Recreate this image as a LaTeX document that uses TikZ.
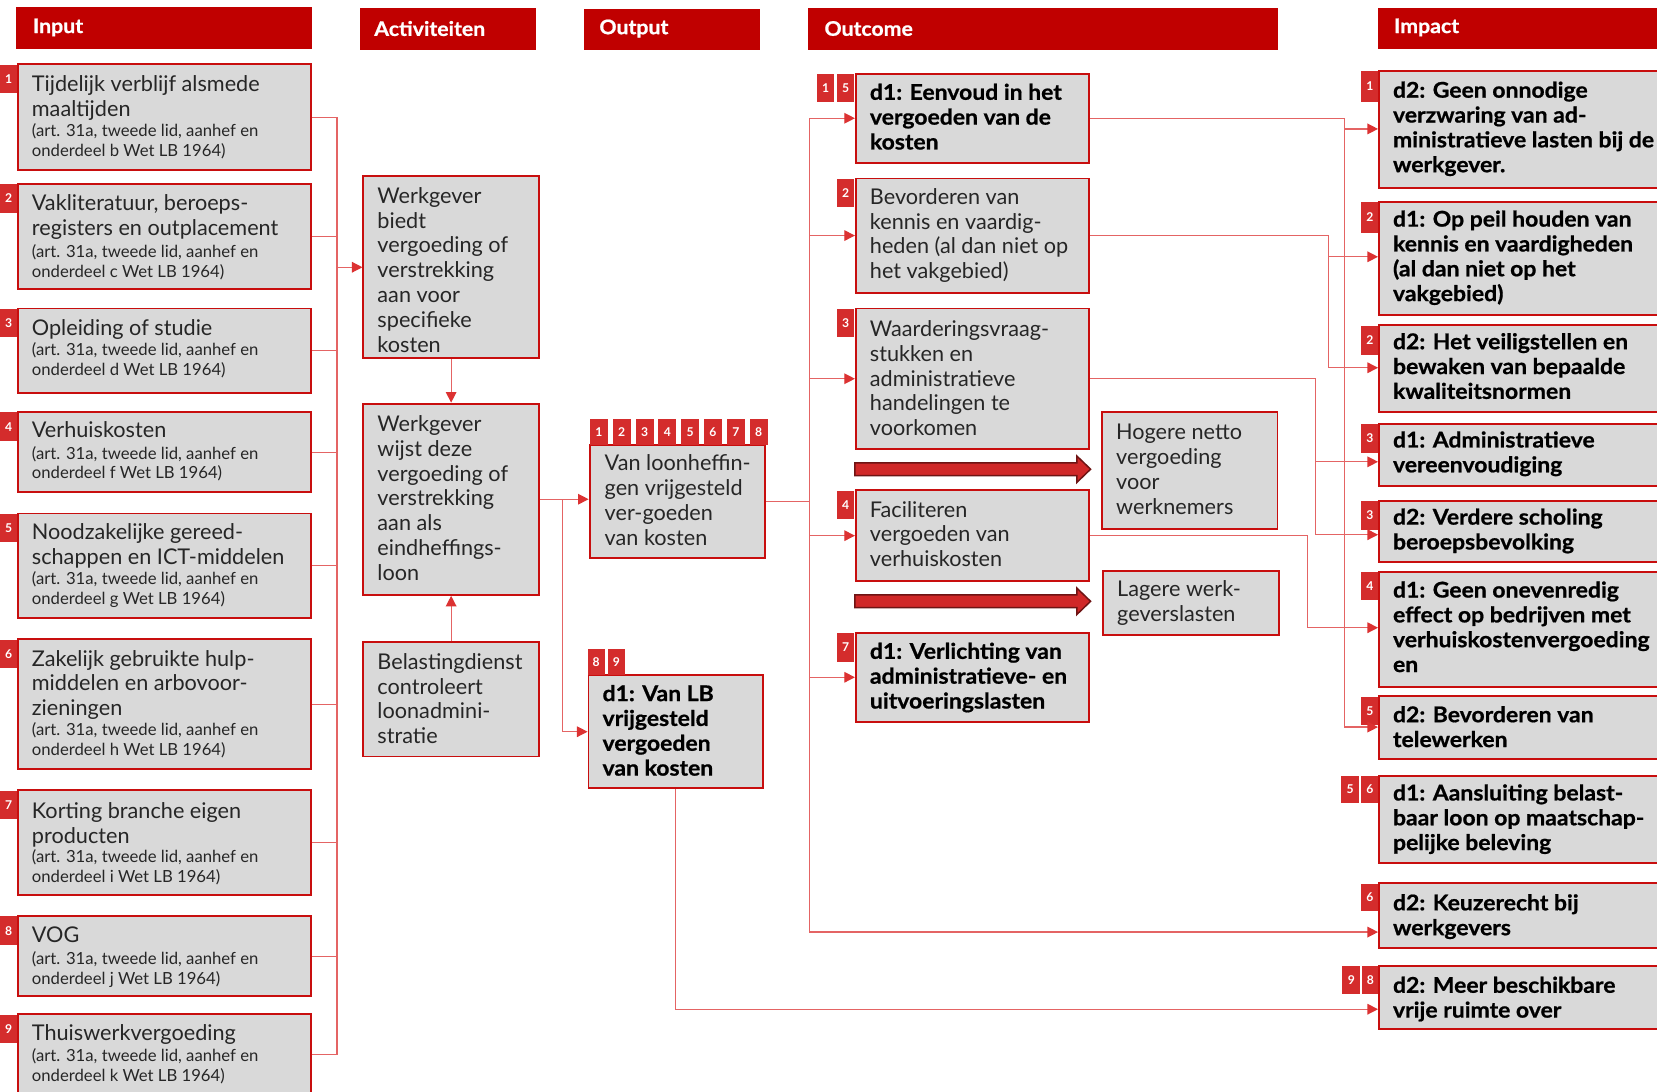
\documentclass[tikz,border=0pt]{standalone}
\usepackage{fontspec}
\setmainfont{Lato}
\newfontfamily\bfont[FakeStretch=1.06,FakeBold=0.8]{Lato}
\usetikzlibrary{arrows.meta}
\definecolor{hdr}{RGB}{192,0,0}
\definecolor{bord}{RGB}{200,14,14}
\definecolor{fillg}{RGB}{217,217,217}
\definecolor{tagr}{RGB}{212,44,44}
\definecolor{connc}{RGB}{228,100,100}
\definecolor{arrh}{RGB}{220,50,50}
\definecolor{bigf}{RGB}{208,40,40}
\definecolor{bigb}{RGB}{110,20,20}
\definecolor{txtc}{RGB}{38,38,38}
\newcommand\bx[5]{\node[box,minimum width={(#4-#2)*1pt},minimum height={(#5-#3)*1pt},anchor=north west] (#1) at (#2,#3) {};}
\newcommand\tg[6]{\node[tagst,minimum width={(#4-#2)*1pt},minimum height={(#5-#3)*1pt}] (#1) at (#2,#3) {#6};}
\newcommand\hd[5]{\node[hdrbox,minimum width={(#4-#2)*1pt},minimum height={(#5-#3)*1pt},anchor=north west] (#1) at (#2,#3) {};}
\begin{document}
\begin{tikzpicture}[x=1pt,y=-1pt,
 box/.style={draw=bord,fill=fillg,line width=1.8pt,inner sep=0pt,rectangle},
 hdrbox/.style={fill=hdr,inner sep=0pt,rectangle},
 hdrtxt/.style={text=white,font=\fontsize{19}{22}\selectfont\bfont\bfseries,anchor=west,inner sep=0pt},
 txt/.style={anchor=north west,inner sep=0pt,align=left,text=txtc,font=\fontsize{20.5}{23.5}\selectfont},
 sml/.style={anchor=north west,inner sep=0pt,align=left,text=txtc,font=\fontsize{15.8}{18.8}\selectfont},
 btxt/.style={anchor=north west,inner sep=0pt,align=left,text=black,font=\fontsize{20.5}{23.5}\selectfont\bfont\bfseries},
 tagst/.style={fill=tagr,text=white,font=\fontsize{11.5}{12}\selectfont\bfseries,inner sep=0pt,anchor=north west,rectangle},
 cn/.style={draw=connc,line width=1.2pt},
 arr/.style={-{Triangle[length=10pt,width=10pt,color=arrh]}},
 bigarrow/.style={fill=bigf,draw=bigb,line width=1.4pt,line join=miter}
]
\useasboundingbox (0,0) rectangle (1568,1033);
\fill[white] (0,0) rectangle (1568,1033);

% headers
\hd{hIn}{15}{6}{295}{46}\node[hdrtxt] (hInT) at (31,26) {Input};
\hd{hAc}{340}{7}{507}{47}\node[hdrtxt] (hAcT) at (354,27) {Activiteiten};
\hd{hOu}{552}{8}{719}{47}\node[hdrtxt] (hOuT) at (567,27) {Output};
\hd{hOc}{764}{7}{1209}{47}\node[hdrtxt] (hOcT) at (780,27) {Outcome};
\hd{hIm}{1304}{7}{1590}{46}\node[hdrtxt] (hImT) at (1319,26) {Impact};

% input boxes
\bx{in1}{16}{60}{293}{160}\tg{g1}{0}{61}{16}{88}{1}
\node[txt] (in1t) at (30,71) {Tijdelijk verblijf alsmede\\maaltijden};
\node[sml] (in1s) at (30,117) {(art. 31a, tweede lid, aanhef en\\onderdeel b Wet LB 1964)};
\bx{in2}{16}{173}{293}{273}\tg{g2}{0}{174}{16}{201}{2}
\node[txt] (in2t) at (30,184) {Vakliteratuur, beroeps-\\registers en outplacement};
\node[sml] (in2s) at (30,231) {(art. 31a, tweede lid, aanhef en\\onderdeel c Wet LB 1964)};
\bx{in3}{16}{291}{293}{371}\tg{g3}{0}{292}{16}{319}{3}
\node[txt] (in3t) at (30,302) {Opleiding of studie};
\node[sml] (in3s) at (30,324) {(art. 31a, tweede lid, aanhef en\\onderdeel d Wet LB 1964)};
\bx{in4}{16}{389}{293}{465}\tg{g4}{0}{390}{16}{417}{4}
\node[txt] (in4t) at (30,399) {Verhuiskosten};
\node[sml] (in4s) at (30,422) {(art. 31a, tweede lid, aanhef en\\onderdeel f Wet LB 1964)};
\bx{in5}{16}{485}{293}{584}\tg{g5}{0}{486}{16}{513}{5}
\node[txt] (in5t) at (30,495) {Noodzakelijke gereed-\\schappen en ICT-middelen};
\node[sml] (in5s) at (30,541) {(art. 31a, tweede lid, aanhef en\\onderdeel g Wet LB 1964)};
\bx{in6}{16}{604}{293}{727}\tg{g6}{0}{605}{16}{632}{6}
\node[txt] (in6t) at (30,615) {Zakelijk gebruikte hulp-\\middelen en arbovoor-\\zieningen};
\node[sml] (in6s) at (30,684) {(art. 31a, tweede lid, aanhef en\\onderdeel h Wet LB 1964)};
\bx{in7}{16}{747}{293}{846}\tg{g7}{0}{748}{16}{775}{7}
\node[txt] (in7t) at (30,759) {Korting branche eigen\\producten};
\node[sml] (in7s) at (30,804) {(art. 31a, tweede lid, aanhef en\\onderdeel i Wet LB 1964)};
\bx{in8}{16}{866}{293}{942}\tg{g8}{0}{867}{16}{894}{8}
\node[txt] (in8t) at (30,877) {VOG};
\node[sml] (in8s) at (30,900) {(art. 31a, tweede lid, aanhef en\\onderdeel j Wet LB 1964)};
\bx{in9}{16}{959}{293}{1035}\tg{g9}{0}{960}{16}{987}{9}
\node[txt] (in9t) at (30,969) {Thuiswerkvergoeding};
\node[sml] (in9s) at (30,992) {(art. 31a, tweede lid, aanhef en\\onderdeel k Wet LB 1964)};

% activities
\bx{a1}{343}{166}{509}{338}
\node[txt] (a1t) at (357,177) {Werkgever\\biedt\\vergoeding of\\verstrekking\\aan voor\\specifieke\\kosten};
\bx{a2}{343}{381}{509}{562}
\node[txt] (a2t) at (357,393) {Werkgever\\wijst deze\\vergoeding of\\verstrekking\\aan als\\eindheffings-\\loon};
\bx{a3}{343}{607}{509}{715}
\node[txt] (a3t) at (357,618) {Belastingdienst\\controleert\\loonadmini-\\stratie};

% output
\bx{o1}{557}{420}{723}{527}
\node[txt] (o1t) at (572,430) {Van loonheffin-\\gen vrijgesteld\\ver-goeden\\van kosten};
\tg{p1}{558}{396}{575}{421}{1}\tg{p2}{579.6}{396}{596.6}{421}{2}\tg{p3}{601.2}{396}{618.2}{421}{3}
\tg{p4}{622.8}{396}{639.8}{421}{4}\tg{p5}{644.4}{396}{661.4}{421}{5}\tg{p6}{666}{396}{683}{421}{6}
\tg{p7}{687.6}{396}{704.6}{421}{7}\tg{p8}{709.2}{396}{726.2}{421}{8}
\bx{o2}{556}{638}{721}{745}
\node[btxt] (o2t) at (570,648) {d1: Van LB\\vrijgesteld\\vergoeden\\van kosten};
\tg{q8}{556}{614}{572}{639}{8}\tg{q9}{575}{614}{591}{639}{9}

% outcome
\bx{oc1}{809}{69}{1030}{153}\tg{r1}{773}{70}{789}{96}{1}\tg{r5}{792}{70}{808}{96}{5}
\node[btxt] (oc1t) at (823,79) {d1: Eenvoud in het\\vergoeden van de\\kosten};
\bx{oc2}{809}{168}{1030}{276}\tg{r2}{792}{169}{808}{196}{2}
\node[txt] (oc2t) at (823,178) {Bevorderen van\\kennis en vaardig-\\heden (al dan niet op\\het vakgebied)};
\bx{oc3}{809}{291}{1030}{424}\tg{r3}{792}{292}{808}{319}{3}
\node[txt] (oc3t) at (823,303) {Waarderingsvraag-\\stukken en\\administratieve\\handelingen te\\voorkomen};
\bx{oc4}{809}{463}{1030}{549}\tg{r4}{792}{464}{808}{491}{4}
\node[txt] (oc4t) at (823,474) {Faciliteren\\vergoeden van\\verhuiskosten};
\bx{oc7}{809}{598}{1030}{682}\tg{r7}{792}{599}{808}{626}{7}
\node[btxt] (oc7t) at (823,608) {d1: Verlichting van\\administratieve- en\\uitvoeringslasten};

\draw[bigarrow] (809,438) -- (1019,438) -- (1019,431.5) -- (1032,444) -- (1019,456.5) -- (1019,450) -- (809,450) -- cycle;
\draw[bigarrow] (809,563) -- (1019,563) -- (1019,556.5) -- (1032,569) -- (1019,581.5) -- (1019,575) -- (809,575) -- cycle;

\bx{s1}{1042}{389}{1208}{500}
\node[txt] (s1t) at (1056,401) {Hogere netto\\vergoeding\\voor\\werknemers};
\bx{s2}{1043}{539}{1209}{600}
\node[txt] (s2t) at (1057,549) {Lagere werk-\\geverslasten};

% impact
\bx{i1}{1304}{66}{1590}{177}\tg{k1}{1288}{67}{1304}{96}{1}
\node[btxt] (i1t) at (1318,77) {d2: Geen onnodige\\verzwaring van ad-\\ministratieve lasten bij de\\werkgever.};
\bx{i2}{1304}{190}{1590}{297}\tg{k2}{1288}{191}{1304}{220}{2}
\node[btxt] (i2t) at (1318,199) {d1: Op peil houden van\\kennis en vaardigheden\\(al dan niet op het\\vakgebied)};
\bx{i3}{1304}{307}{1590}{389}\tg{k3}{1288}{308}{1304}{336}{2}
\node[btxt] (i3t) at (1318,315) {d2: Het veiligstellen en\\bewaken van bepaalde\\kwaliteitsnormen};
\bx{i4}{1304}{400}{1590}{459}\tg{k4}{1288}{401}{1304}{428}{3}
\node[btxt] (i4t) at (1318,408) {d1: Administratieve\\vereenvoudiging};
\bx{i5}{1304}{473}{1590}{531}\tg{k5}{1288}{474}{1304}{501}{3}
\node[btxt] (i5t) at (1318,481) {d2: Verdere scholing\\beroepsbevolking};
\bx{i6}{1304}{540}{1590}{649}\tg{k6}{1288}{541}{1304}{568}{4}
\node[btxt] (i6t) at (1318,550) {d1: Geen onevenredig\\effect op bedrijven met\\verhuiskostenvergoeding\\en};
\bx{i7}{1304}{658}{1590}{717}\tg{k7}{1288}{659}{1304}{686}{5}
\node[btxt] (i7t) at (1318,668) {d2: Bevorderen van\\telewerken};
\bx{i8}{1304}{733}{1590}{816}\tg{k8a}{1269}{734}{1286}{760}{5}\tg{k8b}{1288}{734}{1304}{760}{6}
\node[btxt] (i8t) at (1318,742) {d1: Aansluiting belast-\\baar loon op maatschap-\\pelijke beleving};
\bx{i9}{1304}{835}{1590}{896}\tg{k9}{1288}{836}{1304}{862}{6}
\node[btxt] (i9t) at (1318,846) {d2: Keuzerecht bij\\werkgevers};
\bx{i10}{1304}{913}{1590}{973}\tg{k10a}{1270}{914}{1287}{940}{9}\tg{k10b}{1289}{914}{1304}{940}{8}
\node[btxt] (i10t) at (1318,924) {d2: Meer beschikbare\\vrije ruimte over};

% connectors: input bus
\coordinate (bi) at (319,0);
\foreach \i in {1,...,9} {\draw[cn] (in\i.east) -- (in\i.east -| bi);}
\draw[cn] (in1.east -| bi) -- (in9.east -| bi);
\draw[cn,arr] (bi |- a1.west) -- (a1.west);
\draw[cn,arr] (a1.south) -- (a2.north);
\draw[cn,arr] (a3.north) -- (a2.south);
\coordinate (bo) at (532,0);
\draw[cn,arr] (a2.east) -- (a2.east -| o1.west);
\draw[cn,arr] (a2.east -| bo) -- (bo |- o2.west) -- (o2.west);

% output to outcome
\coordinate (bc) at (766,0);
\coordinate (t9) at (1304,882);
\coordinate (t10) at (1304,955);
\draw[cn] (o1.east) -- (o1.east -| bc);
\draw[cn,arr] (bc |- oc1.west) -- (bc |- t9) -- (t9);
\foreach \n in {oc1,oc2,oc3,oc4,oc7} {\draw[cn,arr] (bc |- \n.west) -- (\n.west);}
\draw[cn,arr] (o2.south) -- (o2.south |- t10) -- (t10);

% outcome to impact
\coordinate (t1) at (1304,122);
\coordinate (t2) at (1304,243);
\coordinate (t3) at (1304,348);
\coordinate (t4) at (1304,437);
\coordinate (t5) at (1304,506);
\coordinate (t6) at (1304,594);
\coordinate (t7) at (1304,688);
\coordinate (v1) at (1272,0);
\coordinate (v2) at (1257,0);
\coordinate (v3) at (1245,0);
\coordinate (v4) at (1237,0);
\draw[cn] (oc1.east) -- (oc1.east -| v1) -- (v1 |- t7);
\draw[cn,arr] (v1 |- t1) -- (t1);
\draw[cn,arr] (v1 |- t7) -- (t7);
\draw[cn] (oc2.east) -- (oc2.east -| v2) -- (v2 |- t3);
\draw[cn,arr] (v2 |- t2) -- (t2);
\draw[cn,arr] (v2 |- t3) -- (t3);
\draw[cn] (oc3.east) -- (oc3.east -| v3) -- (v3 |- t5);
\draw[cn,arr] (v3 |- t4) -- (t4);
\draw[cn,arr] (v3 |- t5) -- (t5);
\draw[cn,arr] (oc4.east) -- (oc4.east -| v4) -- (v4 |- t6) -- (t6);
\end{tikzpicture}
\end{document}
